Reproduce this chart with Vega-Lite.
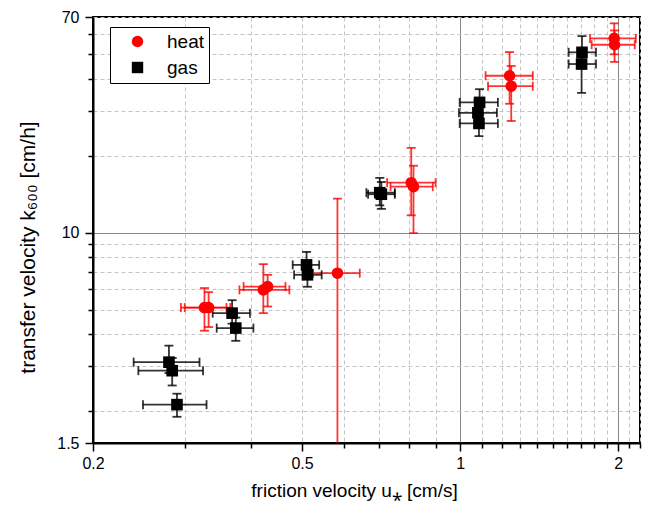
{
  "$schema": "https://vega.github.io/schema/vega-lite/v6.json",
  "autosize": "none",
  "width": 547,
  "height": 426,
  "padding": {"left": 93, "top": 17, "right": 16, "bottom": 74},
  "background": "white",
  "config": {
    "font": "Liberation Sans",
    "view": {"stroke": "black", "strokeWidth": 2},
    "axis": {"labelFont": "Liberation Sans", "titleFont": "Liberation Sans", "labelColor": "black", "titleColor": "black", "titleFontWeight": "normal", "domainColor": "black", "domainWidth": 2, "tickColor": "black", "tickWidth": 1.5, "labelFontSize": 16, "titleFontSize": 19}
  },
  "data": {"values": [
    {"series": "gas", "x": 0.289, "y": 2.12, "xmin": 0.249, "xmax": 0.329, "ymin": 1.90, "ymax": 2.34},
    {"series": "gas", "x": 0.279, "y": 3.11, "xmin": 0.239, "xmax": 0.319, "ymin": 2.82, "ymax": 3.61},
    {"series": "gas", "x": 0.283, "y": 2.88, "xmin": 0.244, "xmax": 0.324, "ymin": 2.52, "ymax": 3.23},
    {"series": "gas", "x": 0.368, "y": 4.84, "xmin": 0.338, "xmax": 0.398, "ymin": 4.40, "ymax": 5.44},
    {"series": "gas", "x": 0.374, "y": 4.23, "xmin": 0.344, "xmax": 0.404, "ymin": 3.77, "ymax": 4.65},
    {"series": "gas", "x": 0.510, "y": 7.48, "xmin": 0.480, "xmax": 0.539, "ymin": 6.9, "ymax": 8.41},
    {"series": "gas", "x": 0.512, "y": 6.84, "xmin": 0.483, "xmax": 0.545, "ymin": 6.14, "ymax": 7.4},
    {"series": "gas", "x": 0.703, "y": 14.35, "xmin": 0.663, "xmax": 0.751, "ymin": 12.8, "ymax": 16.4},
    {"series": "gas", "x": 0.708, "y": 14.15, "xmin": 0.668, "xmax": 0.751, "ymin": 12.4, "ymax": 15.8},
    {"series": "gas", "x": 1.089, "y": 32.4, "xmin": 0.998, "xmax": 1.18, "ymin": 29, "ymax": 36.5},
    {"series": "gas", "x": 1.081, "y": 29.5, "xmin": 0.995, "xmax": 1.175, "ymin": 26, "ymax": 33},
    {"series": "gas", "x": 1.086, "y": 26.8, "xmin": 0.998, "xmax": 1.18, "ymin": 23.9, "ymax": 30},
    {"series": "gas", "x": 1.706, "y": 50.9, "xmin": 1.609, "xmax": 1.814, "ymin": 44, "ymax": 58.9},
    {"series": "gas", "x": 1.703, "y": 45.8, "xmin": 1.609, "xmax": 1.814, "ymin": 35.3, "ymax": 52},
    {"series": "heat", "x": 0.326, "y": 5.09, "xmin": 0.294, "xmax": 0.365, "ymin": 4.13, "ymax": 6.07},
    {"series": "heat", "x": 0.332, "y": 5.09, "xmin": 0.299, "xmax": 0.359, "ymin": 4.27, "ymax": 5.85},
    {"series": "heat", "x": 0.422, "y": 5.97, "xmin": 0.380, "xmax": 0.473, "ymin": 4.84, "ymax": 7.53},
    {"series": "heat", "x": 0.430, "y": 6.15, "xmin": 0.387, "xmax": 0.465, "ymin": 5.14, "ymax": 6.84},
    {"series": "heat", "x": 0.584, "y": 6.94, "xmin": 0.525, "xmax": 0.644, "ymin": 0.28, "ymax": 13.6},
    {"series": "heat", "x": 0.807, "y": 15.7, "xmin": 0.726, "xmax": 0.898, "ymin": 11.7, "ymax": 21.5},
    {"series": "heat", "x": 0.815, "y": 15.15, "xmin": 0.737, "xmax": 0.887, "ymin": 9.96, "ymax": 18.3},
    {"series": "heat", "x": 1.242, "y": 41.2, "xmin": 1.118, "xmax": 1.375, "ymin": 32, "ymax": 51},
    {"series": "heat", "x": 1.251, "y": 37.5, "xmin": 1.13, "xmax": 1.375, "ymin": 27.4, "ymax": 45},
    {"series": "heat", "x": 1.965, "y": 57.7, "xmin": 1.767, "xmax": 2.16, "ymin": 50, "ymax": 66.1},
    {"series": "heat", "x": 1.968, "y": 54.5, "xmin": 1.78, "xmax": 2.15, "ymin": 46.7, "ymax": 62}
  ]},
  "layer": [
    {
      "mark": {"type": "rule", "strokeWidth": 1.8, "opacity": 0.8, "clip": true},
      "encoding": {
        "x": {"field": "xmin", "type": "quantitative", "scale": {"type": "log", "domain": [0.2, 2.2], "nice": false},
          "axis": {"title": "friction velocity u⁎ [cm/s]", "values": [0.2,0.3,0.4,0.5,0.6,0.7,0.8,0.9,1,1.1,1.2,1.3,1.4,1.5,1.6,1.7,1.8,1.9,2,2.1,2.2],
            "labelExpr": "datum.value == 0.2 || datum.value == 0.5 || datum.value == 1 || datum.value == 2 ? datum.label : ''",
            "format": "~g", "labelPadding": 4, "titlePadding": 10, "titleX": 261, "labelFlush": false, "labelOverlap": false,
            "grid": true,
            "gridColor": {"condition": {"test": "datum.value == 1 || datum.value == 2", "value": "#888888"}, "value": "#c4c4c4"},
            "gridDash": {"condition": {"test": "datum.value == 1 || datum.value == 2", "value": []}, "value": [4, 3]},
            "tickSize": {"condition": {"test": "datum.value == 0.2 || datum.value == 0.5 || datum.value == 1 || datum.value == 2", "value": 8}, "value": 5}}},
        "x2": {"field": "xmax"},
        "y": {"field": "y", "type": "quantitative", "scale": {"type": "log", "domain": [1.5, 70], "nice": false},
          "axis": {"title": "transfer velocity k₆₀₀ [cm/h]", "values": [1.5,2,3,4,5,6,7,8,9,10,20,30,40,50,60,70],
            "labelExpr": "datum.value == 1.5 || datum.value == 10 || datum.value == 70 ? datum.label : ''",
            "format": "~g", "labelPadding": 6, "titlePadding": 18, "titleFontSize": 21, "titleY": 230, "labelFlush": false, "labelOverlap": false,
            "grid": true,
            "gridColor": {"condition": {"test": "datum.value == 10", "value": "#888888"}, "value": "#c4c4c4"},
            "gridDash": {"condition": {"test": "datum.value == 10", "value": []}, "value": [4, 3]},
            "tickSize": {"condition": {"test": "datum.value == 1.5 || datum.value == 10 || datum.value == 70", "value": 8}, "value": 5}}},
        "stroke": {"condition": {"test": "datum.series == 'heat'", "value": "#ff0000"}, "value": "#000000"}
      }
    },
    {
      "mark": {"type": "rule", "strokeWidth": 1.8, "opacity": 0.8, "clip": true},
      "encoding": {
        "x": {"field": "x", "type": "quantitative"},
        "y": {"field": "ymin", "type": "quantitative"},
        "y2": {"field": "ymax"},
        "stroke": {"condition": {"test": "datum.series == 'heat'", "value": "#ff0000"}, "value": "#000000"}
      }
    },
    {
      "transform": [{"fold": ["xmin", "xmax"], "as": ["k", "cap"]}],
      "mark": {"type": "point", "shape": "M0,-1V1", "size": 81, "filled": false, "strokeWidth": 1.8, "opacity": 0.8, "clip": true},
      "encoding": {
        "x": {"field": "cap", "type": "quantitative"},
        "y": {"field": "y", "type": "quantitative"},
        "stroke": {"condition": {"test": "datum.series == 'heat'", "value": "#ff0000"}, "value": "#000000"}
      }
    },
    {
      "transform": [{"fold": ["ymin", "ymax"], "as": ["k", "cap"]}],
      "mark": {"type": "point", "shape": "M-1,0H1", "size": 81, "filled": false, "strokeWidth": 1.8, "opacity": 0.8, "clip": true},
      "encoding": {
        "x": {"field": "x", "type": "quantitative"},
        "y": {"field": "cap", "type": "quantitative"},
        "stroke": {"condition": {"test": "datum.series == 'heat'", "value": "#ff0000"}, "value": "#000000"}
      }
    },
    {
      "mark": {"type": "point", "filled": true, "opacity": 1, "size": 135},
      "encoding": {
        "x": {"field": "x", "type": "quantitative"},
        "y": {"field": "y", "type": "quantitative"},
        "color": {"field": "series", "type": "nominal", "scale": {"domain": ["heat", "gas"], "range": ["#ff0000", "#000000"]},
          "legend": {"title": null, "orient": "none", "legendX": 17, "legendY": 10, "padding": 5, "strokeColor": "black", "fillColor": "white",
            "labelFontSize": 19, "labelFont": "Liberation Sans", "labelColor": "black", "symbolOffset": 13, "labelOffset": 20, "rowPadding": 6, "symbolSize": 130, "symbolStrokeWidth": 0}},
        "shape": {"field": "series", "type": "nominal", "scale": {"domain": ["heat", "gas"], "range": ["circle", "square"]},
          "legend": {"title": null, "orient": "none", "legendX": 17, "legendY": 10}}
      }
    }
  ]
}
